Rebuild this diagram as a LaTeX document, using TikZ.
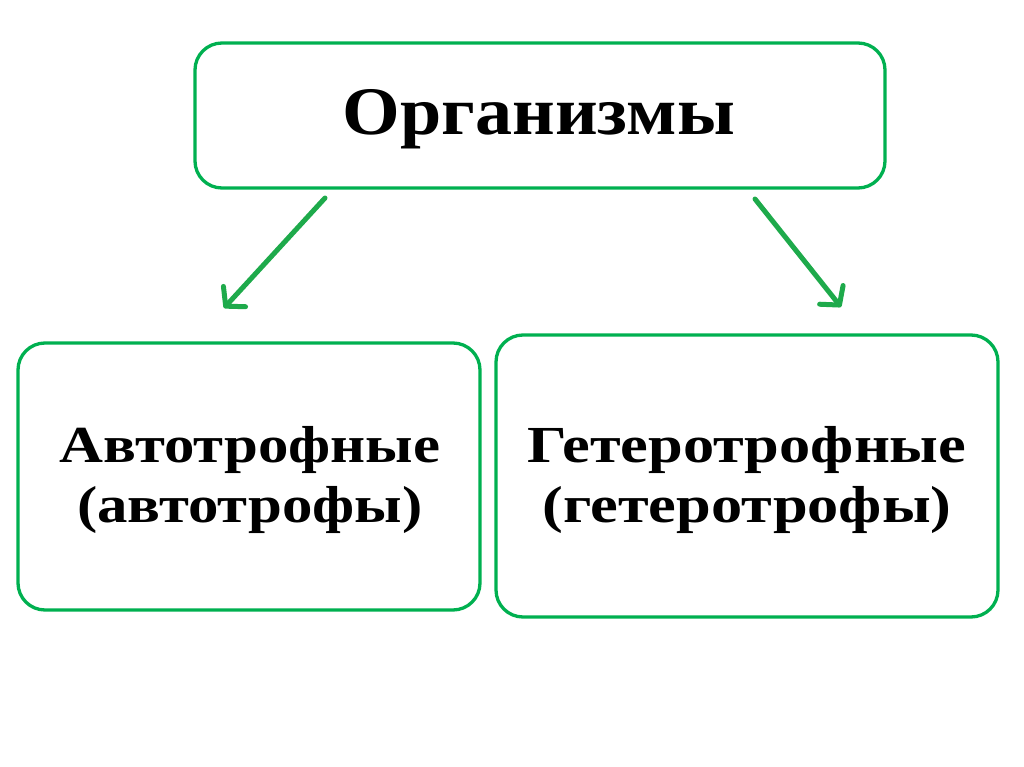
\documentclass[tikz,border=0pt]{standalone}
\usepackage{fontspec}
\usepackage{graphicx}
\setmainfont{Liberation Serif}
\usetikzlibrary{arrows.meta}
\definecolor{boxgreen}{RGB}{0,176,80}
\definecolor{arrgreen}{RGB}{30,170,75}
\newcommand{\widetext}[3]{\scalebox{#1}[1]{\fontsize{#2}{60}\selectfont\bfseries\begin{tabular}{@{}c@{}}#3\end{tabular}}}
\begin{document}
\begin{tikzpicture}[x=1pt,y=-1pt,
  box/.style={draw=boxgreen, line width=3.3pt, rounded corners=27pt, fill=white,
    align=center, inner sep=0pt},
  arr/.style={draw=arrgreen, line width=5pt, line cap=round,
    -{Straight Barb[length=13pt,width=30pt,line cap=round,line join=round]}}]
\useasboundingbox (0,0) rectangle (1024,767);
\node[box, minimum width=690pt, minimum height=145pt] (top) at (540,115.5) {};
\node (toptext) at (539,121) {\widetext{1.09}{68}{Организмы}};
\node[box, minimum width=462pt, minimum height=267pt] (left) at (249,476.5) {};
\node (lefttext) at (250,480) {\widetext{1.17}{52}{Автотрофные\\(автотрофы)}};
\node[box, minimum width=502pt, minimum height=282pt] (right) at (747,476) {};
\node (righttext) at (747,480) {\widetext{1.2}{52}{Гетеротрофные\\(гетеротрофы)}};
\coordinate (ls) at (325,198);
\coordinate (le) at (224,308);
\coordinate (rs) at (755,199);
\coordinate (re) at (841,307);
\draw[arr] (ls) -- (le);
\draw[arr] (rs) -- (re);
\end{tikzpicture}
\end{document}
